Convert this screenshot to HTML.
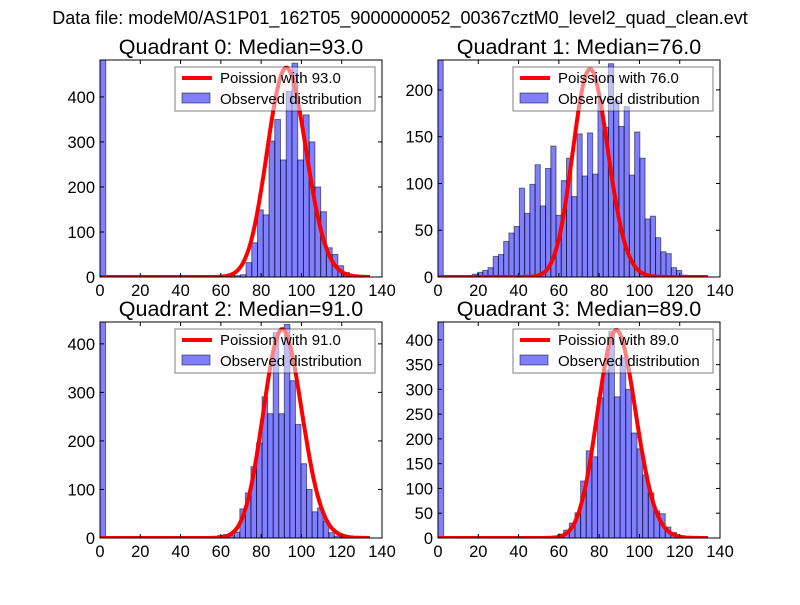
<!DOCTYPE html>
<html><head><meta charset="utf-8"><style>
body{margin:0;background:#fff;}
svg text{font-family:"Liberation Sans","DejaVu Sans",sans-serif;}
</style></head><body>
<svg id="chart" width="800" height="600" viewBox="0 0 800 600" xmlns="http://www.w3.org/2000/svg">
<rect width="800" height="600" fill="#fff"/>
<text x="400" y="24" font-size="18" text-anchor="middle">Data file: modeM0/AS1P01_162T05_9000000052_00367cztM0_level2_quad_clean.evt</text>
</svg>
<script>
// Data per quadrant
const quadrantNames = ["Quadrant 0","Quadrant 1","Quadrant 2","Quadrant 3"];
const medians = [93.0, 76.0, 91.0, 89.0];
const zeroBinCounts = [482, 232, 445, 436];
const binWidths = [2.85, 2.6, 2.76, 2.8];
const binStarts = [72.5, 17, 63.9, 59.6];
const q0Counts = [32,76,149,138,302,350,260,412,475,260,360,300,200,145,65,50,25,10,3];
const q1Counts = [3,5,7,10,22,24,38,47,54,95,68,99,120,76,116,140,66,103,127,86,153,108,154,110,189,160,228,189,161,182,109,155,127,62,65,42,27,25,10,7,2];
const q2Counts = [5,12,60,93,147,196,291,256,423,256,440,324,234,153,100,54,62,35,11,4,2];
const q3Counts = [8,16,30,51,115,176,164,283,339,417,285,364,300,212,180,127,91,55,49,22,11,5];
const lowTailCounts = [[3,3,4,3,5],[0,0,0,0,0],[3,3,5,7],[3,4]];
const poissonScale = [11240, 4860, 10290, 9930];
const xTicks = [0,20,40,60,80,100,120,140];
const yTicksList = [[0,100,200,300,400],[0,50,100,150,200],[0,100,200,300,400],[0,50,100,150,200,250,300,350,400]];
const allCounts = [q0Counts,q1Counts,q2Counts,q3Counts];

const boxes = [{x:100,y:60,w:282,h:217},{x:438,y:60,w:282,h:217},{x:100,y:322,w:282,h:216},{x:438,y:322,w:282,h:216}];
const NS="http://www.w3.org/2000/svg";
const svg=document.getElementById('chart');
function mk(tag,attrs,parent){const e=document.createElementNS(NS,tag);for(const k in attrs)e.setAttribute(k,attrs[k]);(parent||svg).appendChild(e);return e;}
function lnFact(k){let s=0;for(let i=2;i<=k;i++)s+=Math.log(i);return s;}

for(let q=0;q<4;q++){
  const b=boxes[q];
  const ymax=zeroBinCounts[q];
  const sx=v=>b.x+v/140*b.w;
  const sy=v=>b.y+b.h-v/ymax*b.h;
  const g=mk('g',{});
  
  
  const clipId='clip'+q;
  const cp=mk('clipPath',{id:clipId},g);mk('rect',{x:b.x,y:b.y,width:b.w,height:b.h},cp);
  const plot=mk('g',{'clip-path':'url(#'+clipId+')'},g);
  const bw=binWidths[q];
  function bar(x0,c,name){
    const r=mk('rect',{x:sx(x0),y:sy(c),width:sx(x0+bw)-sx(x0),height:sy(0)-sy(c),fill:'rgba(0,0,255,0.5)',stroke:'rgba(0,0,0,0.5)','stroke-width':1},plot);
    
    
  }
  bar(0,zeroBinCounts[q],'bar-zero-bin');
  const tail=lowTailCounts[q];
  for(let i=0;i<tail.length;i++){if(tail[i]>0)bar(binStarts[q]-bw*(tail.length-i),tail[i],'bar-tail');}
  const cs=allCounts[q];
  for(let i=0;i<cs.length;i++)bar(binStarts[q]+bw*i,cs[i],'bar');
  let pts=[];const lam=medians[q];
  for(let k=0;k<=134;k++){const p=Math.exp(-lam+k*Math.log(lam)-lnFact(k));pts.push(sx(k).toFixed(1)+','+sy(p*poissonScale[q]).toFixed(1));}
  const pl=mk('polyline',{points:pts.join(' '),fill:'none',stroke:'#ff0000','stroke-width':4,'stroke-linejoin':'round'},plot);
  
  
  mk('rect',{x:b.x,y:b.y,width:b.w,height:b.h,fill:'none',stroke:'#000','stroke-width':1},g);
  for(const t of xTicks){
    const x=sx(t);
    mk('line',{x1:x,y1:b.y+b.h,x2:x,y2:b.y+b.h-4,stroke:'#000'},g);
    mk('line',{x1:x,y1:b.y,x2:x,y2:b.y+4,stroke:'#000'},g);
    const tx=mk('text',{x:x,y:b.y+b.h+19,'font-size':16.5,'text-anchor':'middle'},g);tx.textContent=t;
    
    
  }
  for(const t of yTicksList[q]){
    const y=sy(t);
    mk('line',{x1:b.x,y1:y,x2:b.x+4,y2:y,stroke:'#000'},g);
    mk('line',{x1:b.x+b.w,y1:y,x2:b.x+b.w-4,y2:y,stroke:'#000'},g);
    const ty=mk('text',{x:b.x-5,y:y+6,'font-size':16.5,'text-anchor':'end'},g);ty.textContent=t;
    
    
  }
  const tt=mk('text',{x:b.x+b.w/2,y:b.y-6,'font-size':21.5,'text-anchor':'middle'},g);
  tt.textContent=quadrantNames[q]+': Median='+medians[q].toFixed(1);
  
  
  const lg=mk('g',{},g);
  
  
  const lx=b.x+b.w-207,ly=b.y+7;
  mk('rect',{x:lx,y:ly,width:200,height:44,fill:'rgba(255,255,255,0.5)',stroke:'rgba(0,0,0,0.5)'},lg);
  mk('line',{x1:lx+7,y1:ly+11,x2:lx+37,y2:ly+11,stroke:'#ff0000','stroke-width':4},lg);
  const t1=mk('text',{x:lx+45,y:ly+16,'font-size':15},lg);t1.textContent='Poission with '+medians[q].toFixed(1);
  
  
  mk('rect',{x:lx+7,y:ly+26,width:28,height:10,fill:'rgba(0,0,255,0.5)',stroke:'rgba(0,0,0,0.5)'},lg);
  const t2=mk('text',{x:lx+45,y:ly+37,'font-size':15},lg);t2.textContent='Observed distribution';
  
  
}
</script>
</body></html>
